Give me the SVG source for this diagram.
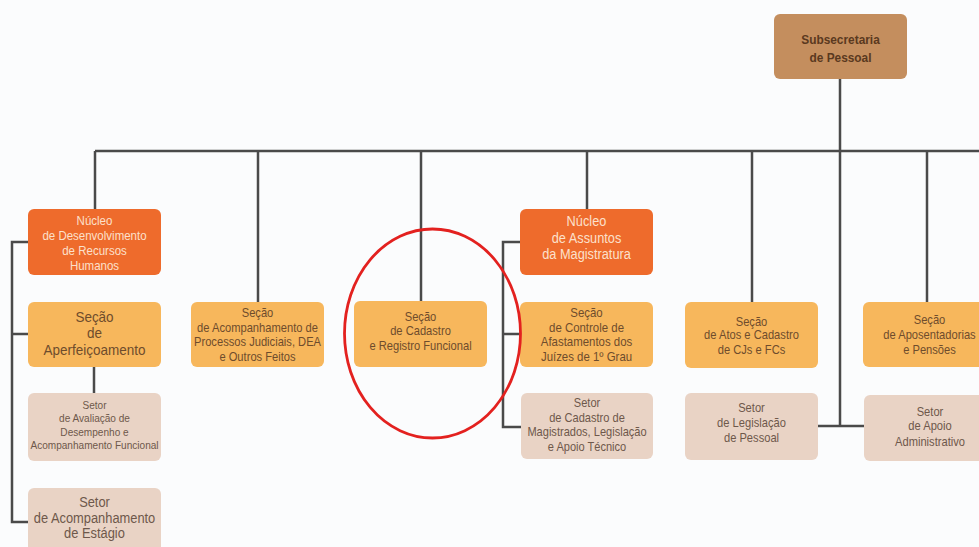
<svg xmlns="http://www.w3.org/2000/svg" width="979" height="547" viewBox="0 0 979 547">
<style>
.bg{fill:#FBFCFD}
.sub{fill:#C48E5E}
.nuc{fill:#EE6B2C}
.sec{fill:#F7B75C}
.set{fill:#E9D3C5}
text{font-family:"Liberation Sans",Arial,sans-serif;text-anchor:middle}
.tsub{fill:#5A3920;font-weight:bold;font-size:13.5px}
.tnuc{fill:#FCE0CB}
.tsec{fill:#6E4C2C}
.tset{fill:#6E584B}
.ln{stroke:#4A4A4A;stroke-width:2.5;fill:none}
.mark{stroke:#E3211F;stroke-width:2.8;fill:none}
</style>
<rect class="bg" x="0" y="0" width="979" height="547"/>
<g id="connectors">
<path class="ln" d="M95 151H979"/>
<path class="ln" d="M95 151V209"/>
<path class="ln" d="M258 151V302"/>
<path class="ln" d="M421 151V301"/>
<path class="ln" d="M587 151V209"/>
<path class="ln" d="M752 151V302"/>
<path class="ln" d="M927 151V302"/>
<path class="ln" d="M840 79V426"/>
<path class="ln" d="M818 426H864"/>
<path class="ln" d="M28 242H12V522H28M12 334H28"/>
<path class="ln" d="M94 367V393"/>
<path class="ln" d="M520 242H503V427H521M503 334H520"/>
</g>
<g id="subsecretaria">
<rect class="sub" x="774" y="14" width="133" height="65" rx="6"/>
<g transform="translate(840.5 0) scale(0.88 1)">
<text class="tsub" x="0" y="44">Subsecretaria</text>
<text class="tsub" x="0" y="62">de Pessoal</text>
</g>
</g>
<g id="nucleo-drh">
<rect class="nuc" x="28" y="209" width="133" height="66" rx="6"/>
<g transform="translate(94.5 0) scale(0.9 1)" class="tnuc" font-size="12.8">
<text class="tnuc" x="0" y="225.5">Núcleo</text>
<text class="tnuc" x="0" y="240.5">de Desenvolvimento</text>
<text class="tnuc" x="0" y="255.5">de Recursos</text>
<text class="tnuc" x="0" y="270.5">Humanos</text>
</g>
</g>
<g id="secao-aperfeicoamento">
<rect class="sec" x="28" y="302" width="133" height="65" rx="6"/>
<g transform="translate(94.5 0) scale(0.9 1)" font-size="15">
<text class="tsec" x="0" y="322.5">Seção</text>
<text class="tsec" x="0" y="338.5">de</text>
<text class="tsec" x="0" y="355.5">Aperfeiçoamento</text>
</g>
</g>
<g id="setor-avaliacao">
<rect class="set" x="28" y="393" width="133" height="68" rx="6"/>
<g transform="translate(94.5 0) scale(0.9 1)" font-size="11.2">
<text class="tset" x="0" y="409">Setor</text>
<text class="tset" x="0" y="422.5">de Avaliação de</text>
<text class="tset" x="0" y="436">Desempenho e</text>
<text class="tset" x="0" y="449.5">Acompanhamento Funcional</text>
</g>
</g>
<g id="setor-estagio">
<rect class="set" x="28" y="488" width="133" height="70" rx="6"/>
<g transform="translate(94.5 0) scale(0.9 1)" font-size="14.3">
<text class="tset" x="0" y="507">Setor</text>
<text class="tset" x="0" y="523">de Acompanhamento</text>
<text class="tset" x="0" y="538">de Estágio</text>
</g>
</g>
<g id="secao-processos">
<rect class="sec" x="191" y="302" width="133" height="65" rx="6"/>
<g transform="translate(257.5 0) scale(0.9 1)" font-size="12.4">
<text class="tsec" x="0" y="317.5">Seção</text>
<text class="tsec" x="0" y="332">de Acompanhamento de</text>
<text class="tsec" x="0" y="346.5">Processos Judiciais, DEA</text>
<text class="tsec" x="0" y="361">e Outros Feitos</text>
</g>
</g>
<g id="secao-cadastro">
<rect class="sec" x="354" y="301" width="133" height="66" rx="6"/>
<g transform="translate(420.5 0) scale(0.9 1)" font-size="12.4">
<text class="tsec" x="0" y="321.5">Seção</text>
<text class="tsec" x="0" y="335.5">de Cadastro</text>
<text class="tsec" x="0" y="350.5">e Registro Funcional</text>
</g>
</g>
<g id="nucleo-magistratura">
<rect class="nuc" x="520" y="209" width="133" height="66" rx="6"/>
<g transform="translate(586.5 0) scale(0.9 1)" font-size="14.2">
<text class="tnuc" x="0" y="226">Núcleo</text>
<text class="tnuc" x="0" y="243">de Assuntos</text>
<text class="tnuc" x="0" y="259.5">da Magistratura</text>
</g>
</g>
<g id="secao-controle">
<rect class="sec" x="520" y="302" width="133" height="65" rx="6"/>
<g transform="translate(586.5 0) scale(0.9 1)" font-size="12.7">
<text class="tsec" x="0" y="317.5">Seção</text>
<text class="tsec" x="0" y="332">de Controle de</text>
<text class="tsec" x="0" y="346.5">Afastamentos dos</text>
<text class="tsec" x="0" y="361">Juízes de 1º Grau</text>
</g>
</g>
<g id="setor-cadastro-magistrados">
<rect class="set" x="521" y="393" width="132" height="66" rx="6"/>
<g transform="translate(587 0) scale(0.9 1)" font-size="12.3">
<text class="tset" x="0" y="407.5">Setor</text>
<text class="tset" x="0" y="422">de Cadastro de</text>
<text class="tset" x="0" y="436.5">Magistrados, Legislação</text>
<text class="tset" x="0" y="451">e Apoio Técnico</text>
</g>
</g>
<g id="secao-atos">
<rect class="sec" x="685" y="302" width="133" height="66" rx="6"/>
<g transform="translate(751.5 0) scale(0.9 1)" font-size="12.4">
<text class="tsec" x="0" y="326">Seção</text>
<text class="tsec" x="0" y="339.5">de Atos e Cadastro</text>
<text class="tsec" x="0" y="354.5">de CJs e FCs</text>
</g>
</g>
<g id="setor-legislacao">
<rect class="set" x="685" y="393" width="133" height="67" rx="6"/>
<g transform="translate(751.5 0) scale(0.9 1)" font-size="12.4">
<text class="tset" x="0" y="412.5">Setor</text>
<text class="tset" x="0" y="427.5">de Legislação</text>
<text class="tset" x="0" y="442.5">de Pessoal</text>
</g>
</g>
<g id="secao-aposentadorias">
<rect class="sec" x="863" y="302" width="133" height="65" rx="6"/>
<g transform="translate(929.5 0) scale(0.9 1)" font-size="12.4">
<text class="tsec" x="0" y="324.5">Seção</text>
<text class="tsec" x="0" y="339.5">de Aposentadorias</text>
<text class="tsec" x="0" y="354.5">e Pensões</text>
</g>
</g>
<g id="setor-apoio">
<rect class="set" x="864" y="395" width="132" height="66" rx="6"/>
<g transform="translate(930 0) scale(0.9 1)" font-size="12.4">
<text class="tset" x="0" y="416.5">Setor</text>
<text class="tset" x="0" y="430.5">de Apoio</text>
<text class="tset" x="0" y="446.5">Administrativo</text>
</g>
</g>
<ellipse id="highlight" class="mark" cx="432.5" cy="333.5" rx="88" ry="104.5"/>
</svg>
